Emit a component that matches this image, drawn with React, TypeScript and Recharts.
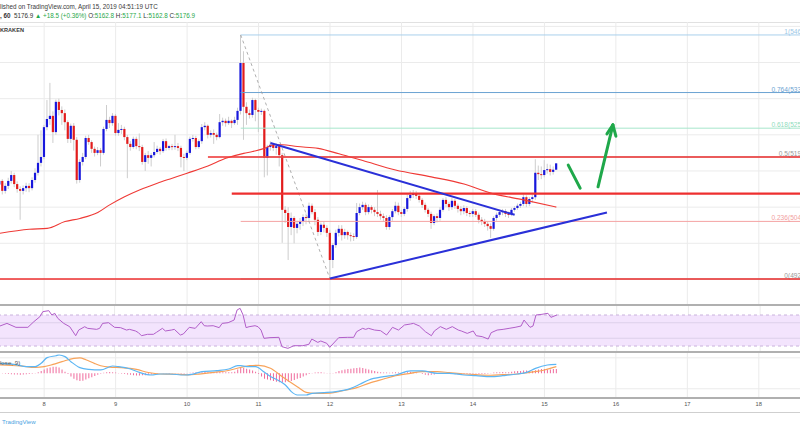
import React from "react";
import {
  ComposedChart,
  Bar,
  Line,
  XAxis,
  YAxis,
  CartesianGrid,
  ReferenceLine,
  ReferenceArea,
} from "recharts";

// hourly candles, hour 0 = April 7 2019 00:00 UTC
const firstHour = 9;
const lastHour = 278;
const dayTicks = [24, 48, 72, 96, 120, 144, 168, 192, 216, 240, 264];
const dayLabels = ["8", "9", "10", "11", "12", "13", "14", "15", "16", "17", "18"];
const priceTicks = [4880, 4920, 4960, 5000, 5040, 5080, 5120, 5160, 5200, 5240, 5280, 5320, 5360, 5400, 5440, 5480];

const firstOpen = 5130;
const closes = [
  5138, 5116, 5127, 5138, 5151, 5131, 5120, 5116, 5122, 5127,
  5122, 5140, 5156, 5178, 5191, 5257, 5275, 5282, 5246, 5313,
  5295, 5288, 5268, 5231, 5260, 5229, 5140, 5180, 5191, 5233,
  5224, 5209, 5200, 5206, 5200, 5253, 5273, 5266, 5282, 5244,
  5251, 5253, 5235, 5220, 5213, 5231, 5215, 5213, 5180, 5195,
  5189, 5195, 5202, 5209, 5204, 5226, 5211, 5215, 5213, 5215,
  5211, 5191, 5189, 5200, 5231, 5233, 5213, 5226, 5257, 5260,
  5240, 5244, 5240, 5235, 5268, 5271, 5266, 5271, 5266, 5273,
  5293, 5399, 5302, 5288, 5284, 5317, 5295, 5291, 5293, 5189,
  5213, 5218, 5211, 5215, 5195, 5074, 5067, 5036, 5056, 5034,
  5043, 5049, 5058, 5056, 5083, 5069, 5052, 5025, 5041, 5034,
  5023, 4963, 4996, 5023, 5032, 5018, 5025, 5018, 5016, 5014,
  5067, 5080, 5085, 5069, 5080, 5074, 5069, 5065, 5060, 5056,
  5036, 5058, 5071, 5083, 5069, 5065, 5076, 5100, 5107, 5109,
  5105, 5096, 5085, 5074, 5065, 5045, 5060, 5056, 5074, 5096,
  5087, 5080, 5094, 5083, 5076, 5071, 5078, 5067, 5065, 5071,
  5063, 5052, 5049, 5043, 5038, 5032, 5056, 5063, 5069, 5071,
  5065, 5064, 5074, 5078, 5083, 5087, 5102, 5087, 5098, 5102,
  5156, 5153, 5151, 5162, 5164, 5158, 5162.8, 5176.9,
];
const highs = [
  5146, 5142, 5133, 5145, 5160, 5156, 5137, 5126, 5128, 5134,
  5133, 5146, 5166, 5240, 5250, 5262, 5317, 5355, 5292, 5318,
  5320, 5303, 5296, 5272, 5265, 5266, 5235, 5186, 5200, 5238,
  5240, 5228, 5214, 5213, 5211, 5258, 5306, 5280, 5288, 5286,
  5266, 5262, 5258, 5240, 5226, 5236, 5236, 5243, 5218, 5200,
  5204, 5200, 5224, 5216, 5213, 5231, 5232, 5218, 5220, 5240,
  5222, 5216, 5198, 5205, 5236, 5240, 5238, 5230, 5264, 5268,
  5263, 5250, 5252, 5245, 5286, 5278, 5276, 5280, 5274, 5280,
  5300, 5461, 5425, 5312, 5296, 5322, 5320, 5300, 5298, 5296,
  5218, 5226, 5222, 5221, 5218, 5200, 5082, 5080, 5068, 5060,
  5050, 5056, 5064, 5066, 5090, 5088, 5076, 5058, 5046, 5048,
  5040, 5030, 5000, 5030, 5040, 5040, 5032, 5028, 5024, 5022,
  5089, 5088, 5092, 5090, 5086, 5084, 5080, 5118, 5072, 5066,
  5062, 5062, 5076, 5092, 5090, 5074, 5080, 5108, 5116, 5118,
  5116, 5110, 5100, 5090, 5078, 5070, 5064, 5066, 5080, 5100,
  5102, 5092, 5100, 5098, 5088, 5082, 5084, 5082, 5072, 5076,
  5076, 5068, 5058, 5054, 5048, 5044, 5060, 5068, 5074, 5076,
  5076, 5070, 5078, 5082, 5088, 5092, 5108, 5106, 5102, 5108,
  5186, 5172, 5170, 5184, 5176, 5174, 5170, 5177.1,
];
const lows = [
  5124, 5108, 5110, 5120, 5132, 5124, 5112, 5052, 5108, 5114,
  5113, 5117, 5134, 5150, 5170, 5186, 5250, 5262, 5222, 5240,
  5283, 5262, 5250, 5222, 5222, 5205, 5132, 5134, 5172, 5186,
  5218, 5200, 5192, 5195, 5170, 5196, 5248, 5255, 5260, 5238,
  5238, 5242, 5228, 5144, 5205, 5209, 5208, 5204, 5174, 5160,
  5176, 5170, 5190, 5198, 5196, 5200, 5205, 5206, 5206, 5207,
  5204, 5168, 5160, 5184, 5196, 5225, 5208, 5209, 5220, 5250,
  5232, 5234, 5220, 5228, 5232, 5260, 5258, 5262, 5255, 5262,
  5262, 5285, 5229, 5262, 5276, 5278, 5270, 5246, 5284, 5146,
  5150, 5205, 5204, 5196, 5170, 5001, 5045, 4963, 5018, 5000,
  5022, 5030, 5038, 5042, 5050, 5064, 5040, 5016, 5018, 5024,
  5014, 4921, 4945, 4990, 5015, 5006, 5010, 5008, 5004, 5005,
  5010, 5062, 5074, 5062, 5064, 5066, 5060, 5058, 5052, 5048,
  5030, 5030, 5050, 5066, 5062, 5058, 5060, 5070, 5094, 5100,
  5098, 5090, 5078, 5068, 5058, 5032, 5040, 5046, 5050, 5070,
  5080, 5072, 5074, 5076, 5068, 5062, 5064, 5060, 5058, 5058,
  5058, 5044, 5040, 5036, 5028, 5012, 5028, 5050, 5058, 5062,
  5058, 5056, 5060, 5070, 5074, 5078, 5082, 5080, 5082, 5090,
  5096, 5140, 5142, 5146, 5154, 5150, 5152, 5162.8,
];
const histValues = [
  0.5, 0.3, -0.5, -1, -1.2, -1.5,
  -1.5, -1.8, -1.5, -1.2, -1, -0.5, 0.5, 1.5,
  3, 5, 6.5, 7.5, 8.5, 8.5, 7.5, 5, 2,
  -1, -4, -7, -9, -10, -9.5, -8, -6.5, -5, -3.5, -2,
  -0.5, 0.8, 1.5, 1.8, 1.5, 1, 0.5, -0.5, -1,
  -1.5, -2, -2.5, -3, -3, -2.5, -2.5, -2, -1.5, -1, -0.5,
  0, -0.3, 0.3, -0.5, -0.3, 0.5, 0.3, -0.5, -0.5, 0.3, 0.8, 1, 1.2, 1.5,
  1.5, 1.8, 1.5, 1.2, 1.5, 2, 1.8, 1.5, 1.5, 1.2, 1.5, 2,
  5, 7, 7, 6, 5, 3.5, 2,
  -1, -4, -7, -8, -9, -10, -11, -11.5, -12, -11.5, -11, -10, -8.5, -7, -6, -4, -2.5, -1,
  0.5, 1, 1.3, 1.3, 0.8, 0.3, -0.3, 0.5,
  1.5, 3, 4, 5, 5.5, 6, 6.5, 7, 7.5, 7, 6, 5, 4, 3, 2,
  1.5, 1, 1, 0.8, 1, 1.2, 1,
  0.5, 1, 1.5, 2, 1.5, 1, 0, -1, -2, -2.5, -2, -1.5, -1,
  -0.5, -0.3, 0.3, -0.5, -1, -1.2, -1.5, -1.5, -1.2, -1, -0.8, -0.5, -0.5, -0.8, -1, -0.8, -0.5, 0.5, 1, 1.5,
  1.5, 1.8, 1.5, 1.5, 2, 2.5, 3, 3, 3.5, 3.5, 3, 3, 4, 5, 5.5, 5.5, 5, 5, 5.5, 5.5,
];

// [hour, value] readings of the indicator curves
const emaPoints = [
  [9, 5022], [19, 5031], [25, 5033], [31, 5048], [36, 5055], [42, 5068], [46, 5085],
  [51, 5103], [56, 5118], [62, 5133], [67, 5144], [72, 5155], [79, 5171], [85, 5188],
  [91, 5199], [94, 5203], [98, 5210], [101, 5218], [104, 5218], [109, 5214], [116, 5210],
  [123, 5198], [131, 5183], [142, 5162], [154, 5147], [165, 5131], [174, 5111], [185, 5096],
  [196, 5080],
];
const rsiPoints = [
  [9, 54.9], [12, 59.2], [15, 54.1], [19, 54.1], [21, 61.4], [23, 67.8], [24, 74.3], [26, 75.6],
  [27, 70], [28, 72.2], [29, 65.7], [31, 59.2], [33, 54.9], [35, 43.3], [36, 50.6], [38, 54.9],
  [39, 52.8], [42, 51.5], [43, 52.8], [44, 59.2], [46, 60.1], [48, 54.1], [50, 53.7], [52, 50.6],
  [53, 51.5], [55, 49.4], [56, 47.2], [57, 43.3], [59, 45.1], [61, 45.1], [62, 47.6], [64, 52.8],
  [65, 49.4], [67, 50.6], [68, 51.5], [70, 44.2], [71, 45.5], [73, 54.1], [75, 52.8], [77, 61.4],
  [78, 56.2], [79, 55.8], [81, 56.2], [83, 53.7], [84, 59.2], [86, 60.1], [88, 63.5], [89, 76.5],
  [90, 78.6], [91, 70], [92, 53.7], [93, 54.9], [95, 56.2], [96, 54.9], [97, 50.6], [98, 39.9],
  [100, 40.8], [103, 41.2], [104, 29.2], [106, 27], [108, 30.4], [111, 30.4], [113, 32.2],
  [114, 39], [116, 34.7], [117, 36.5], [119, 33.5], [120, 28.3], [123, 40.8], [126, 41.2],
  [128, 41.2], [129, 48.5], [131, 52.8], [132, 51.5], [133, 52.8], [135, 50.6], [137, 49.8],
  [139, 44.2], [141, 54.1], [143, 50.6], [145, 57.1], [147, 58.4], [148, 59.2], [150, 55.8],
  [152, 48.5], [154, 43.3], [155, 49.4], [157, 55], [159, 51.5], [161, 55], [163, 50.6],
  [164, 49.4], [166, 46.3], [168, 49.4], [169, 43.3], [171, 42.1], [173, 39], [174, 47.2],
  [176, 50.6], [178, 51.5], [180, 52.8], [182, 54.1], [184, 55.8], [185, 63.5], [187, 54.1],
  [188, 55.8], [189, 70], [191, 70.9], [193, 72.2], [194, 67], [196, 70],
];
const macdPoints = [
  [9, 12.9], [14, 11.6], [18, 8.6], [21, 8.6], [23, 12.9], [25, 20.2], [28, 22.7], [29, 23.6],
  [31, 21.5], [33, 15], [36, 7.3], [39, 5.1], [43, 4.3], [47, 9.4], [49, 8.6], [53, 5.5],
  [56, 1.2], [60, -2.2], [63, -0.9], [66, -0.9], [71, -2.2], [74, -1], [77, 2.1], [82, 3.4],
  [86, 5.5], [89, 9.8], [90, 9.8], [92, 8.6], [95, 8.6], [98, 1.2], [100, -4], [103, -10],
  [105, -15.1], [107, -23.7], [109, -28], [112, -28], [114, -25.9], [118, -25], [122, -23.7],
  [127, -19.4], [130, -14.2], [133, -8.7], [138, -4.4], [142, -2.2], [147, 3], [151, 3],
  [156, 0], [160, 0], [165, -2.2], [169, -3.1], [174, -4.4], [178, -3.1], [183, -0.9],
  [186, 1.2], [189, 6.4], [193, 10.7], [196, 11.6],
];
const signalPoints = [
  [9, 10.7], [16, 9.5], [21, 7.5], [24, 8.5], [27, 11.5], [30, 15], [34, 19.3], [36, 19.8],
  [38, 17.5], [41, 12.5], [43, 9.8], [46, 8], [50, 7.3], [55, 5], [59, 1], [63, -0.9],
  [67, -1], [72, -2], [76, -1], [81, 1.2], [85, 3], [90, 7.5], [93, 9.8], [96, 10.3],
  [100, 6.5], [104, -4.4], [109, -17.3], [112, -24.6], [115, -25.9], [120, -25.5],
  [124, -22.8], [129, -18.5], [133, -13], [138, -7.4], [142, -3.1], [147, 0], [151, 2.1],
  [156, 2.1], [160, 0.8], [165, -0.9], [169, -1.8], [174, -2.5], [178, -1.8], [183, -0.9],
  [187, 1.2], [192, 4.3], [196, 8.6],
];

// drawings
const fibRatios = ["1", "0.764", "0.618", "0.5", "0.236", "0"];
const fibPrices = [5461.0, 5333.6, 5254.7, 5191.0, 5048.4, 4921.0];
const fibStart = 90;
const fibSwing = [[90, 5461], [120, 4921]];
const redLevels = [5191, 5110, 4921];
const redLevelStarts = [79, 87, 9];
const upperTrend = [[100, 5222], [182, 5063]];
const lowerTrend = [[120, 4922], [213, 5068]];
const arrowLeg = [[200, 5173], [204, 5122]];
const arrowShaft = [[210, 5125], [215, 5262]];
const arrowHeadLeft = [[213, 5242], [215, 5262]];
const arrowHeadRight = [[216, 5237], [215, 5262]];

const fibColors = ["#9cc7e6", "#6ba3d2", "#8fdcbc", "#9a9a9a", "#f2a0a0", "#9a9a9a"];
const fibLineColors = ["#a9d0ec", "#6ba3d2", "#a6e6cc", "#c0c0c0", "#f4a3a3", "#c0c0c0"];
const redWidths = [1.5, 2.2, 1.5];
const FONT = "'Liberation Sans', Arial, sans-serif";
const GREEN = "#1fa84a";
const BLUE_LINE = "#2a30d8";

type Row = { [k: string]: any };
const rows: Row[] = [];
for (let h = firstHour; h <= lastHour; h++) rows.push({ h });
closes.forEach((c, i) => {
  const r = rows[i];
  r.open = i === 0 ? firstOpen : closes[i - 1];
  r.close = c;
  r.high = highs[i];
  r.low = lows[i];
  r.range = [lows[i], highs[i]];
  r.hist = histValues[i];
});
emaPoints.forEach(([h, v]) => (rows[h - firstHour].ema = v));
rsiPoints.forEach(([h, v]) => (rows[h - firstHour].rsi = v));
macdPoints.forEach(([h, v]) => (rows[h - firstHour].macd = v));
signalPoints.forEach(([h, v]) => (rows[h - firstHour].signal = v));

const seg = (p: number[][]) => [
  { x: p[0][0], y: p[0][1] },
  { x: p[1][0], y: p[1][1] },
];

function Candle(props: any) {
  const { x, y, width, height } = props;
  const d = props.payload || props;
  if (!d || d.close == null || !isFinite(y) || !isFinite(height)) return null;
  const span = d.high - d.low || 1;
  const toY = (v: number) => y + ((d.high - v) / span) * height;
  const cx = x + width / 2;
  const up = d.close >= d.open;
  const top = toY(Math.max(d.open, d.close));
  const bottom = toY(Math.min(d.open, d.close));
  return (
    <g>
      <line x1={cx} x2={cx} y1={y} y2={y + height} stroke="#cdcdcd" strokeWidth={1} />
      <rect
        x={cx - 1.1}
        y={top}
        width={2.2}
        height={Math.max(1, bottom - top)}
        fill={up ? "#1717dc" : "#e21c1c"}
      />
    </g>
  );
}

const fibLabel = (i: number) => (p: any) => {
  const vb = p && p.viewBox;
  if (!vb) return null;
  return (
    <text
      x={vb.x + vb.width + 12}
      y={vb.y - 1}
      textAnchor="end"
      fontSize={6.6}
      fontFamily={FONT}
      fill={fibColors[i]}
    >
      {`${fibRatios[i]}(${fibPrices[i].toFixed(1)})`}
    </text>
  );
};

const abs = (style: React.CSSProperties): React.CSSProperties => ({ position: "absolute", ...style });

export default function App() {
  const margin = { top: 0, right: 26, bottom: 0, left: 0 };
  return (
    <div
      style={{
        position: "fixed",
        left: 0,
        top: 0,
        width: 800,
        height: 430,
        overflow: "hidden",
        background: "#ffffff",
        fontFamily: FONT,
      }}
    >
      <div style={abs({ left: 0, top: 2.6, fontSize: 6.3, lineHeight: "7px", color: "#3a3a3a", whiteSpace: "nowrap" })}>
        lished on TradingView.com, April 15, 2019 04:51:19 UTC
      </div>
      <div style={abs({ left: 0, top: 11.6, fontSize: 6.3, lineHeight: "7px", color: "#333", whiteSpace: "nowrap" })}>
        <span style={{ fontWeight: 700 }}>, 60</span>&nbsp; 5176.9{" "}
        <span style={{ color: GREEN }}>▲ +18.5 (+0.36%)</span> O:<span style={{ color: GREEN }}>5162.8</span> H:
        <span style={{ color: GREEN }}>5177.1</span> L:<span style={{ color: GREEN }}>5162.8</span> C:
        <span style={{ color: GREEN }}>5176.9</span>
      </div>
      <div style={abs({ left: 0, top: 21.5, width: 800, height: 1, background: "#d6d6d6" })} />

      {/* price pane */}
      <div style={abs({ left: -2, top: 22 })}>
        <ComposedChart width={830} height={283} data={rows} margin={margin}>
          <CartesianGrid stroke="#ebebeb" />
          <XAxis dataKey="h" type="category" hide ticks={dayTicks} interval={0} />
          <YAxis hide type="number" domain={[4863.4, 5489.7]} ticks={priceTicks} allowDataOverflow />
          {fibPrices.map((p, i) => (
            <ReferenceLine
              key={"fib" + i}
              segment={[{ x: fibStart, y: p }, { x: lastHour, y: p }]}
              stroke={fibLineColors[i]}
              strokeWidth={1}
              label={fibLabel(i)}
            />
          ))}
          <ReferenceLine segment={seg(fibSwing)} stroke="#9a9a9a" strokeDasharray="3 3" strokeWidth={0.8} />
          {redLevels.map((p, i) => (
            <ReferenceLine
              key={"lvl" + i}
              segment={[{ x: redLevelStarts[i], y: p }, { x: lastHour, y: p }]}
              stroke="#ee2f2f"
              strokeWidth={redWidths[i]}
            />
          ))}
          <Line
            dataKey="ema"
            type="monotone"
            connectNulls
            dot={false}
            stroke="#ef3a36"
            strokeWidth={1.1}
            isAnimationActive={false}
          />
          <Bar dataKey="range" shape={<Candle />} isAnimationActive={false} />
          <ReferenceLine segment={seg(upperTrend)} stroke={BLUE_LINE} strokeWidth={2} />
          <ReferenceLine segment={seg(lowerTrend)} stroke={BLUE_LINE} strokeWidth={2} />
          <ReferenceLine segment={seg(arrowLeg)} stroke={GREEN} strokeWidth={3} strokeLinecap="round" />
          <ReferenceLine segment={seg(arrowShaft)} stroke={GREEN} strokeWidth={3} strokeLinecap="round" />
          <ReferenceLine segment={seg(arrowHeadLeft)} stroke={GREEN} strokeWidth={3} strokeLinecap="round" />
          <ReferenceLine segment={seg(arrowHeadRight)} stroke={GREEN} strokeWidth={3} strokeLinecap="round" />
        </ComposedChart>
      </div>
      <div style={abs({ left: 0, top: 26.6, fontSize: 5.6, lineHeight: "6px", fontWeight: 700, color: "#3a3a3a" })}>
        KRAKEN
      </div>

      {/* RSI pane */}
      <div style={abs({ left: -2, top: 305 })}>
        <ComposedChart width={830} height={47} data={rows} margin={margin}>
          <CartesianGrid stroke="#ebebeb" horizontal={false} />
          <XAxis dataKey="h" type="category" hide ticks={dayTicks} interval={0} />
          <YAxis hide type="number" domain={[22.3, 82.9]} allowDataOverflow />
          <ReferenceArea y1={30} y2={70} fill="#f3e4fd" fillOpacity={1} stroke="none" />
          <ReferenceLine y={60} stroke="#ddd0ea" strokeWidth={1} />
          <ReferenceLine y={40} stroke="#ddd0ea" strokeWidth={1} />
          <ReferenceLine y={70} stroke="#c9b2dc" strokeDasharray="3 3" strokeWidth={1} />
          <ReferenceLine y={30} stroke="#c9b2dc" strokeDasharray="3 3" strokeWidth={1} />
          <Line
            dataKey="rsi"
            type="linear"
            connectNulls
            dot={false}
            stroke="#b25ec9"
            strokeWidth={1}
            isAnimationActive={false}
          />
        </ComposedChart>
      </div>

      {/* MACD pane + time axis */}
      <div style={abs({ left: -2, top: 352 })}>
        <ComposedChart width={830} height={60} data={rows} margin={margin}>
          <CartesianGrid stroke="#ebebeb" />
          <XAxis
            dataKey="h"
            type="category"
            ticks={dayTicks}
            interval={0}
            height={14}
            axisLine={false}
            tickLine={false}
            tickSize={0}
            tickMargin={4}
            tick={{ fontSize: 5.8, fill: "#555", fontFamily: FONT }}
            tickFormatter={(v: any) => dayLabels[dayTicks.indexOf(Number(v))] ?? ""}
          />
          <YAxis hide type="number" domain={[-31.9, 27.5]} ticks={[-20, 20]} allowDataOverflow />
          <Bar dataKey="hist" fill="#ef6a9c" barSize={1} isAnimationActive={false} />
          <Line
            dataKey="signal"
            type="monotone"
            connectNulls
            dot={false}
            stroke="#f8a35a"
            strokeWidth={1.2}
            isAnimationActive={false}
          />
          <Line
            dataKey="macd"
            type="monotone"
            connectNulls
            dot={false}
            stroke="#5cb6f4"
            strokeWidth={1.2}
            isAnimationActive={false}
          />
        </ComposedChart>
      </div>
      <div style={abs({ left: 0, top: 358.6, fontSize: 6.2, lineHeight: "7px", color: "#555", whiteSpace: "nowrap" })}>
        lose, 9)
      </div>

      <div style={abs({ left: 0, top: 304, width: 800, height: 2, background: "#b0b0b0" })} />
      <div style={abs({ left: 0, top: 351, width: 800, height: 2, background: "#b0b0b0" })} />
      <div style={abs({ left: 0, top: 397, width: 800, height: 2, background: "#b0b0b0" })} />
      <div style={abs({ left: 0, top: 411.5, width: 800, height: 1, background: "#cfcfcf" })} />
      <div style={abs({ left: 2, top: 418.3, fontSize: 6.1, lineHeight: "7px", color: "#4aa3e2", whiteSpace: "nowrap" })}>
        TradingView
      </div>
    </div>
  );
}
